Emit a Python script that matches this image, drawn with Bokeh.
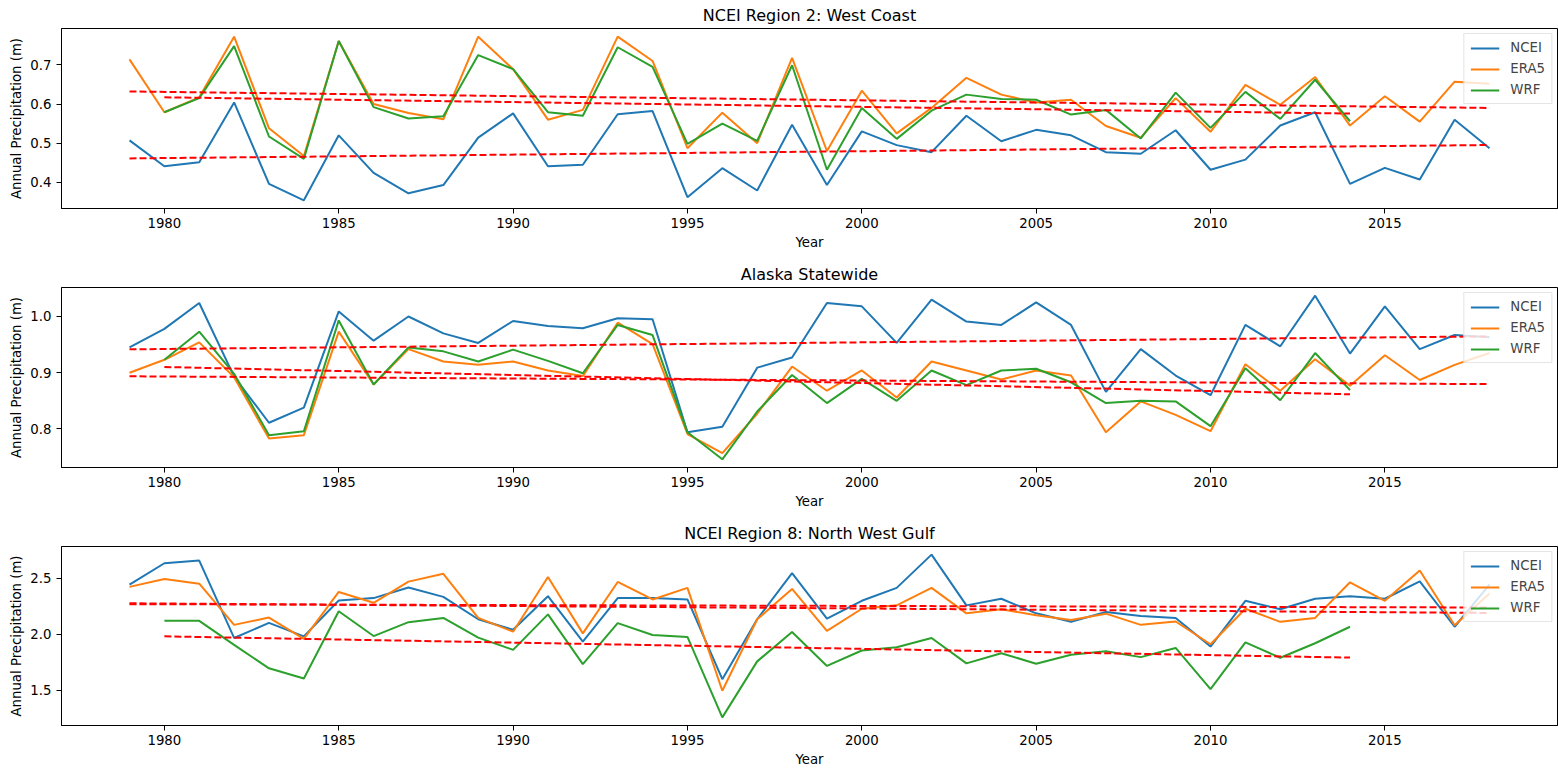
from bokeh.plotting import figure
from bokeh.layouts import column
from bokeh.models import Range1d, FixedTicker
from bokeh.embed import file_html
from bokeh.resources import INLINE
import numpy as np

# ---------------- data ----------------
years_obs = list(range(1979, 2019))
years_wrf = list(range(1980, 2015))
x_ticks = [1980, 1985, 1990, 1995, 2000, 2005, 2010, 2015]

titles = ["NCEI Region 2: West Coast", "Alaska Statewide", "NCEI Region 8: North West Gulf"]
series_names = ["NCEI", "ERA5", "WRF"]

wc_ncei = [0.507, 0.441, 0.451, 0.604, 0.396, 0.354, 0.520, 0.424, 0.372, 0.393,
           0.514, 0.576, 0.441, 0.445, 0.574, 0.582, 0.362, 0.436, 0.379, 0.547,
           0.393, 0.530, 0.495, 0.477, 0.570, 0.505, 0.534, 0.520, 0.477, 0.473,
           0.533, 0.432, 0.458, 0.545, 0.579, 0.396, 0.437, 0.407, 0.560, 0.487]
wc_era5 = [0.714, 0.579, 0.617, 0.772, 0.538, 0.467, 0.761, 0.600, 0.577, 0.561,
           0.772, 0.689, 0.560, 0.585, 0.772, 0.710, 0.487, 0.578, 0.500, 0.718,
           0.480, 0.634, 0.525, 0.590, 0.667, 0.624, 0.604, 0.611, 0.544, 0.514,
           0.615, 0.529, 0.649, 0.598, 0.669, 0.545, 0.620, 0.555, 0.657, 0.652]
wc_wrf = [0.579, 0.615, 0.748, 0.517, 0.460, 0.761, 0.592, 0.563, 0.569, 0.725,
          0.689, 0.579, 0.570, 0.745, 0.695, 0.498, 0.550, 0.506, 0.699, 0.432,
          0.590, 0.511, 0.583, 0.624, 0.613, 0.611, 0.573, 0.585, 0.512, 0.629,
          0.539, 0.631, 0.562, 0.662, 0.556]

ak_ncei = [0.945, 0.978, 1.024, 0.893, 0.811, 0.838, 1.009, 0.957, 1.000, 0.970,
           0.953, 0.992, 0.983, 0.979, 0.997, 0.995, 0.794, 0.804, 0.909, 0.927,
           1.024, 1.018, 0.953, 1.030, 0.991, 0.985, 1.025, 0.985, 0.866, 0.942,
           0.895, 0.860, 0.985, 0.947, 1.037, 0.934, 1.018, 0.942, 0.967, 0.963]
ak_era5 = [0.900, 0.923, 0.954, 0.892, 0.783, 0.789, 0.973, 0.879, 0.942, 0.920,
           0.914, 0.920, 0.904, 0.894, 0.989, 0.951, 0.791, 0.757, 0.827, 0.911,
           0.868, 0.904, 0.856, 0.920, 0.904, 0.888, 0.904, 0.895, 0.794, 0.849,
           0.825, 0.796, 0.915, 0.868, 0.924, 0.877, 0.931, 0.887, 0.914, 0.935]
ak_wrf = [0.923, 0.973, 0.898, 0.789, 0.796, 0.993, 0.879, 0.945, 0.938, 0.920,
          0.941, 0.921, 0.899, 0.985, 0.967, 0.794, 0.746, 0.831, 0.896, 0.846,
          0.889, 0.850, 0.904, 0.878, 0.904, 0.907, 0.883, 0.846, 0.850, 0.849,
          0.805, 0.908, 0.851, 0.935, 0.869]

nwg_ncei = [2.441, 2.632, 2.656, 1.965, 2.100, 1.979, 2.300, 2.321, 2.415, 2.332,
            2.132, 2.038, 2.338, 1.932, 2.321, 2.321, 2.309, 1.597, 2.132, 2.544,
            2.138, 2.297, 2.412, 2.709, 2.256, 2.315, 2.185, 2.109, 2.197, 2.162,
            2.144, 1.888, 2.297, 2.221, 2.315, 2.338, 2.315, 2.471, 2.065, 2.441]
nwg_era5 = [2.421, 2.491, 2.450, 2.082, 2.147, 1.956, 2.376, 2.279, 2.468, 2.538,
            2.144, 2.021, 2.509, 2.006, 2.465, 2.309, 2.412, 1.494, 2.132, 2.403,
            2.029, 2.226, 2.256, 2.412, 2.185, 2.221, 2.168, 2.126, 2.182, 2.082,
            2.112, 1.909, 2.226, 2.109, 2.144, 2.462, 2.297, 2.568, 2.079, 2.362]
nwg_wrf = [2.118, 2.118, 1.903, 1.694, 1.603, 2.203, 1.982, 2.106, 2.144, 1.968,
           1.859, 2.176, 1.732, 2.097, 1.991, 1.974, 1.256, 1.756, 2.018, 1.715,
           1.853, 1.882, 1.965, 1.738, 1.829, 1.735, 1.815, 1.847, 1.794, 1.876,
           1.509, 1.926, 1.788, 1.918, 2.065]

wc_yticks = [0.4, 0.5, 0.6, 0.7]
wc_ylabels = ["0.4", "0.5", "0.6", "0.7"]
ak_yticks = [0.8, 0.9, 1.0]
ak_ylabels = ["0.8", "0.9", "1.0"]
nwg_yticks = [1.5, 2.0, 2.5]
nwg_ylabels = ["1.5", "2.0", "2.5"]

# ---------------- style ----------------
FONT = "DejaVu Sans"
COLORS = ["#1f77b4", "#ff7f0e", "#2ca02c"]


def make_panel(title, ncei, era5, wrf, yticks, ylabels, height, bottom):
    allv = ncei + era5 + wrf
    lo, hi = min(allv), max(allv)
    pad = 0.05 * (hi - lo)
    xpad = 0.05 * (years_obs[-1] - years_obs[0])
    p = figure(width=1558, height=height, output_backend="svg", toolbar_location=None,
               title=title,
               x_range=Range1d(years_obs[0] - xpad, years_obs[-1] + xpad),
               y_range=Range1d(lo - pad, hi + pad),
               min_border_left=61, min_border_right=1, min_border_top=28,
               min_border_bottom=bottom)
    p.title.align = "center"
    p.title.text_font = FONT
    p.title.text_font_size = "16px"
    p.title.text_font_style = "normal"
    p.title.text_color = "black"
    p.title.standoff = 7

    data = [(years_obs, ncei), (years_obs, era5), (years_wrf, wrf)]
    for (xs, ys), c, name in zip(data, COLORS, series_names):
        p.line(xs, ys, line_color=c, line_width=2, legend_label=name)
    for xs, ys in data:
        k, b = np.polyfit(xs, ys, 1)
        tx = [xs[0], xs[-1]]
        p.line(tx, [k * t + b for t in tx], line_color="red", line_width=2,
               line_dash="7 3")

    p.xgrid.visible = False
    p.ygrid.visible = False
    p.outline_line_color = "black"
    p.outline_line_alpha = 1
    p.outline_line_width = 1

    p.xaxis.ticker = FixedTicker(ticks=x_ticks)
    p.yaxis.ticker = FixedTicker(ticks=yticks)
    p.yaxis.major_label_overrides = {t: l for t, l in zip(yticks, ylabels)}
    p.xaxis.axis_label = "Year"
    p.yaxis.axis_label = "Annual Precipitation (m)"
    for ax in (p.xaxis, p.yaxis):
        ax.major_tick_out = 5
        ax.major_tick_in = 0
        ax.minor_tick_out = 0
        ax.minor_tick_in = 0
        ax.axis_line_color = "black"
        ax.major_label_text_font = FONT
        ax.major_label_text_font_size = "13.3px"
        ax.major_label_text_color = "black"
        ax.axis_label_text_font = FONT
        ax.axis_label_text_font_size = "13.3px"
        ax.axis_label_text_font_style = "normal"
        ax.axis_label_text_color = "black"
    p.xaxis.major_label_standoff = 4
    p.xaxis.axis_label_standoff = 4
    p.yaxis.major_label_standoff = 5
    p.yaxis.axis_label_standoff = 3

    lg = p.legend[0]
    lg.location = "top_right"
    lg.label_text_font = FONT
    lg.label_text_font_size = "13.3px"
    lg.glyph_width = 29
    lg.glyph_height = 14
    lg.label_height = 14
    lg.label_standoff = 11
    lg.spacing = 6
    lg.padding = 6
    lg.margin = 5
    lg.border_line_color = "#cccccc"
    lg.border_line_width = 1
    lg.background_fill_alpha = 0.8
    return p


p1 = make_panel(titles[0], wc_ncei, wc_era5, wc_wrf, wc_yticks, wc_ylabels, 259, 51)
p2 = make_panel(titles[1], ak_ncei, ak_era5, ak_wrf, ak_yticks, ak_ylabels, 259, 51)
p3 = make_panel(titles[2], nwg_ncei, nwg_era5, nwg_wrf, nwg_yticks, nwg_ylabels, 251, 44)

layout = column(p1, p2, p3, spacing=0)
open("out.html", "w").write(file_html(layout, INLINE))
